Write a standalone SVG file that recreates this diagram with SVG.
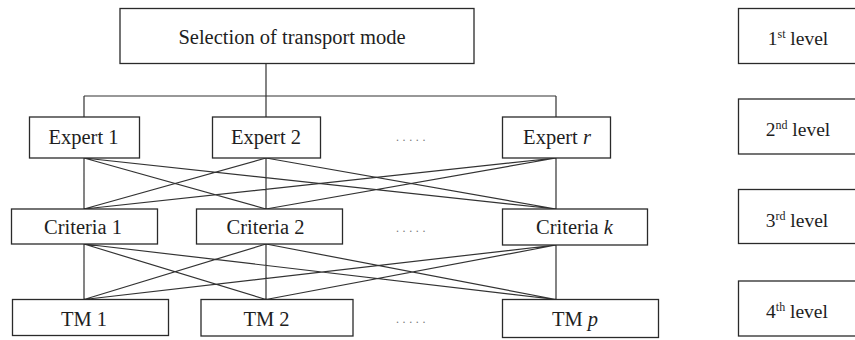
<svg xmlns="http://www.w3.org/2000/svg" width="855" height="340" viewBox="0 0 855 340">
<style>
.box{fill:#fff;stroke:#2a2a2a;stroke-width:1.3}
.t{font-family:"Liberation Serif","Times New Roman",serif;font-size:20.5px;fill:#1e1e1e;text-anchor:middle}
.lv{font-family:"Liberation Serif","Times New Roman",serif;font-size:19.5px;fill:#1e1e1e;text-anchor:middle}
.sup{font-size:12px}
.dots{font-family:"Liberation Serif",serif;font-size:12px;fill:#777;letter-spacing:3.6px}
.c{stroke:#333;stroke-width:1.2;fill:none}
</style>
<rect width="855" height="340" fill="#fff"/>
<g id="connectors">
<path class="c" d="M266 63V96M84 96H556M84 96V117M266 96V117M556 96V117"/>
<path class="c" d="M84 158V209M266 158V209M556 158V209M84 158L266 209M84 158L556 209M266 158L84 209M266 158L556 209M556 158L84 209M556 158L266 209"/>
<path class="c" d="M84 244V299.5M266 244V299.5M556 245V299.5M84 244L266 299.5M84 244L556 299.5M266 244L84 299.5M266 244L556 299.5M556 245L84 299.5M556 245L266 299.5"/>
</g>
<g id="root"><rect class="box" x="120" y="8.5" width="354" height="55"/><text class="t" x="292" y="43.5" font-size="21">Selection of transport mode</text></g>
<g id="expert1"><rect class="box" x="29.5" y="117" width="110" height="41"/><text class="t" x="83.5" y="143.5">Expert 1</text></g>
<g id="expert2"><rect class="box" x="212.5" y="117" width="108" height="41"/><text class="t" x="266" y="143.5">Expert 2</text></g>
<g id="expertr"><rect class="box" x="502.5" y="117" width="108" height="41"/><text class="t" x="557" y="143.5">Expert <tspan font-style="italic">r</tspan></text></g>
<g id="criteria1"><rect class="box" x="11.5" y="209" width="146" height="35"/><text class="t" x="83" y="233.5">Criteria 1</text></g>
<g id="criteria2"><rect class="box" x="196.5" y="209" width="146" height="35"/><text class="t" x="265.5" y="233.5">Criteria 2</text></g>
<g id="criteriak"><rect class="box" x="502.5" y="209" width="145" height="36"/><text class="t" x="574.5" y="233.5">Criteria <tspan font-style="italic">k</tspan></text></g>
<g id="tm1"><rect class="box" x="12.5" y="299.5" width="156" height="36"/><text class="t" x="84" y="326">TM 1</text></g>
<g id="tm2"><rect class="box" x="201" y="299.5" width="152" height="36.5"/><text class="t" x="266.5" y="326">TM 2</text></g>
<g id="tmp"><rect class="box" x="502.5" y="299.5" width="156" height="38"/><text class="t" x="575" y="326">TM <tspan font-style="italic">p</tspan></text></g>
<g id="dots">
<text class="dots" x="396" y="141">.....</text>
<text class="dots" x="396" y="231.5">.....</text>
<text class="dots" x="396" y="323">.....</text>
</g>
<g id="level1"><rect class="box" x="738.5" y="8.5" width="130" height="55"/><text class="lv" x="798" y="45">1<tspan class="sup" dy="-7">st</tspan><tspan dy="7"> level</tspan></text></g>
<g id="level2"><rect class="box" x="738.5" y="99" width="130" height="55"/><text class="lv" x="798" y="136">2<tspan class="sup" dy="-7">nd</tspan><tspan dy="7"> level</tspan></text></g>
<g id="level3"><rect class="box" x="738.5" y="189.5" width="130" height="54"/><text class="lv" x="797" y="227">3<tspan class="sup" dy="-7">rd</tspan><tspan dy="7"> level</tspan></text></g>
<g id="level4"><rect class="box" x="738.5" y="281" width="130" height="55"/><text class="lv" x="797" y="318">4<tspan class="sup" dy="-7">th</tspan><tspan dy="7"> level</tspan></text></g>
</svg>
